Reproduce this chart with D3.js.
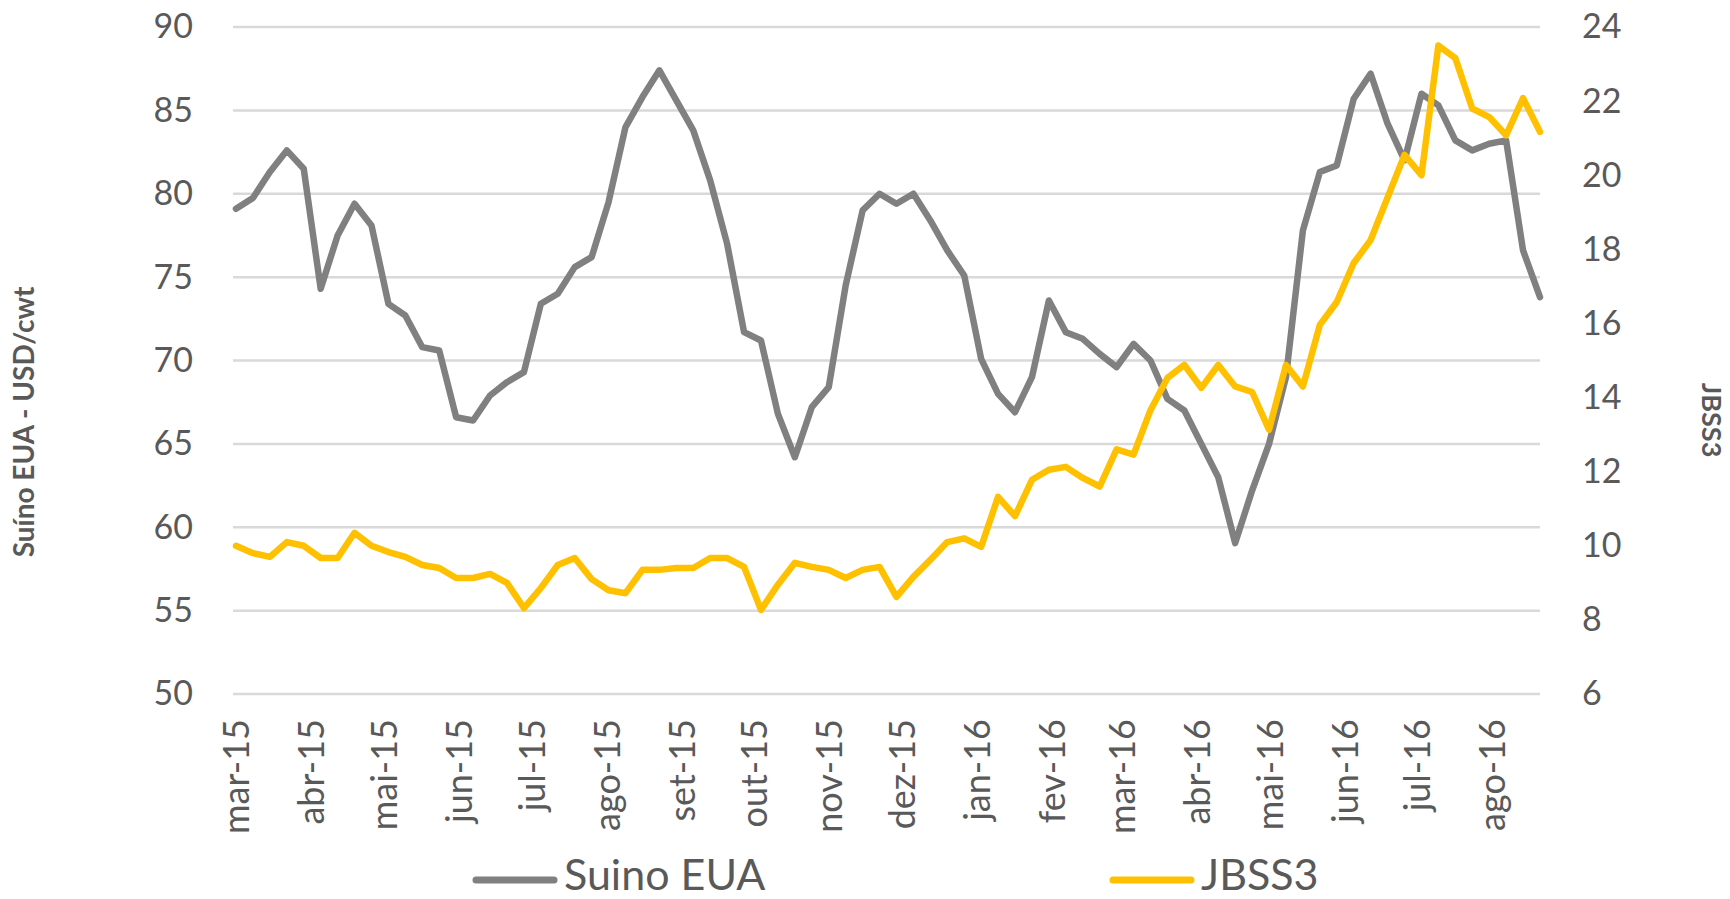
<!DOCTYPE html>
<html>
<head>
<meta charset="utf-8">
<script src="https://cdn.jsdelivr.net/npm/d3@7"></script>
<style>
    body { margin: 0; background: #fff; }
    svg { display: block; font-family: Lato, "Open Sans", sans-serif; }
</style>
</head>
<body>
<svg id="chart"></svg>
<script>
// weekly series, first week starting 1 Mar 2015
const startDate = new Date(2015, 2, 1);

const suino = [
    79.1, 79.75, 81.3, 82.6, 81.5, 74.3, 77.5, 79.4, 78.1, 73.4,
    72.7, 70.8, 70.6, 66.6, 66.4, 67.9, 68.7, 69.3, 73.4, 74.0,
    75.6, 76.2, 79.5, 84.0, 85.8, 87.4, 85.6, 83.8, 80.8, 77.0,
    71.7, 71.2, 66.8, 64.2, 67.2, 68.4, 74.5, 79.0, 80.0, 79.4,
    80.0, 78.4, 76.6, 75.1, 70.1, 68.0, 66.9, 69.0, 73.6, 71.7,
    71.3, 70.4, 69.6, 71.0, 70.0, 67.7, 67.0, 65.0, 63.0, 59.05,
    62.2, 65.0, 69.0, 77.8, 81.3, 81.7, 85.7, 87.2, 84.2, 82.0,
    86.0, 85.3, 83.2, 82.6, 83.0, 83.2, 76.6, 73.8
];

const jbss3 = [
    10.0, 9.8, 9.7, 10.1, 10.0, 9.67, 9.67, 10.35, 10.0, 9.83,
    9.7, 9.48, 9.4, 9.13, 9.13, 9.24, 9.0, 8.32, 8.86, 9.48,
    9.67, 9.1, 8.8, 8.72, 9.35, 9.35, 9.4, 9.4, 9.67, 9.67,
    9.43, 8.27, 8.95, 9.54, 9.43, 9.35, 9.13, 9.35, 9.43, 8.62,
    9.16, 9.62, 10.1, 10.2, 9.97, 11.32, 10.8, 11.78, 12.05, 12.13,
    11.83, 11.6, 12.6, 12.46, 13.66, 14.53, 14.88, 14.26, 14.88, 14.3,
    14.15, 13.13, 14.88, 14.3, 15.96, 16.58, 17.63, 18.25, 19.4, 20.55,
    20.0, 23.5, 23.16, 21.8, 21.57, 21.08, 22.08, 21.17
];

const monthLabels = [
    "mar-15", "abr-15", "mai-15", "jun-15", "jul-15", "ago-15",
    "set-15", "out-15", "nov-15", "dez-15", "jan-16", "fev-16",
    "mar-16", "abr-16", "mai-16", "jun-16", "jul-16", "ago-16"
];

const leftTicks = [50, 55, 60, 65, 70, 75, 80, 85, 90];
const rightTicks = [6, 8, 10, 12, 14, 16, 18, 20, 22, 24];

const seriesNames = ["Suino EUA", "JBSS3"];
const colors = ["#808080", "#FFC000"];

const width = 1730;
const height = 899;
const plot = { left: 233, right: 1540, top: 27, bottom: 694 };
const textColor = "#595959";

const dates = suino.map((d, i) => d3.timeDay.offset(startDate, i * 7));
const monthStarts = monthLabels.map((d, i) => d3.timeMonth.offset(startDate, i));

const svg = d3.select('#chart')
    .attr('width', width)
    .attr('height', height);

const x = d3.scaleTime()
    .domain([dates[0], dates[dates.length - 1]])
    .range([236, plot.right]);

const yLeft = d3.scaleLinear()
    .domain([50, 90])
    .range([plot.bottom, plot.top]);

const yRight = d3.scaleLinear()
    .domain([6, 24])
    .range([plot.bottom, plot.top]);

// Gridlines
svg.append('g')
    .selectAll('line')
    .data(leftTicks)
    .enter().append('line')
    .attr('x1', plot.left)
    .attr('x2', plot.right)
    .attr('y1', d => yLeft(d))
    .attr('y2', d => yLeft(d))
    .attr('stroke', '#D9D9D9')
    .attr('stroke-width', 2.5);

// Left axis
const leftAxis = svg.append('g')
    .attr('transform', `translate(${plot.left},0)`)
    .call(d3.axisLeft(yLeft).tickValues(leftTicks).tickSize(0).tickPadding(40));
leftAxis.select('.domain').remove();
leftAxis.selectAll('text')
    .attr('fill', textColor)
    .style('font-family', 'Lato')
    .style('font-size', '34px');

// Right axis
const rightAxis = svg.append('g')
    .attr('transform', `translate(${plot.right},0)`)
    .call(d3.axisRight(yRight).tickValues(rightTicks).tickSize(0).tickPadding(42));
rightAxis.select('.domain').remove();
rightAxis.selectAll('text')
    .attr('fill', textColor)
    .style('font-family', 'Lato')
    .style('font-size', '34px');

// Bottom axis (rotated month labels)
const bottomAxis = svg.append('g')
    .attr('transform', `translate(0,${plot.bottom})`)
    .call(d3.axisBottom(x).tickValues(monthStarts).tickFormat((d, i) => monthLabels[i]).tickSize(0));
bottomAxis.select('.domain').remove();
bottomAxis.selectAll('text')
    .attr('fill', textColor)
    .attr('transform', 'rotate(-90)')
    .attr('text-anchor', 'end')
    .attr('x', -25)
    .attr('y', 0)
    .attr('dy', '0.36em')
    .style('font-family', 'Lato')
    .style('font-size', '36px');

// Lines
const lineLeft = d3.line()
    .x((d, i) => x(dates[i]))
    .y(d => yLeft(d));

const lineRight = d3.line()
    .x((d, i) => x(dates[i]))
    .y(d => yRight(d));

svg.append('path')
    .datum(suino)
    .attr('fill', 'none')
    .attr('stroke', colors[0])
    .attr('stroke-width', 6.5)
    .attr('stroke-linejoin', 'round')
    .attr('stroke-linecap', 'round')
    .attr('d', lineLeft);

svg.append('path')
    .datum(jbss3)
    .attr('fill', 'none')
    .attr('stroke', colors[1])
    .attr('stroke-width', 6.5)
    .attr('stroke-linejoin', 'round')
    .attr('stroke-linecap', 'round')
    .attr('d', lineRight);

// Axis titles
svg.append('text')
    .attr('transform', 'translate(34,422) rotate(-90)')
    .attr('text-anchor', 'middle')
    .attr('fill', textColor)
    .style('font-weight', 'bold')
    .style('font-size', '28px')
    .text('Suíno EUA - USD/cwt');

svg.append('text')
    .attr('transform', 'translate(1702,420) rotate(90)')
    .attr('text-anchor', 'middle')
    .attr('fill', textColor)
    .style('font-weight', 'bold')
    .style('font-size', '27px')
    .text('JBSS3');

// Legend
const legendX = [476, 1113];
const legend = svg.append('g')
    .selectAll('g')
    .data(seriesNames)
    .enter().append('g')
    .attr('transform', (d, i) => `translate(${legendX[i]},880)`);

legend.append('line')
    .attr('x1', 0)
    .attr('x2', 78)
    .attr('stroke', (d, i) => colors[i])
    .attr('stroke-width', 7)
    .attr('stroke-linecap', 'round');

legend.append('text')
    .attr('x', 88)
    .attr('y', 10)
    .attr('fill', textColor)
    .style('font-size', '43px')
    .text(d => d);
</script>
</body>
</html>
